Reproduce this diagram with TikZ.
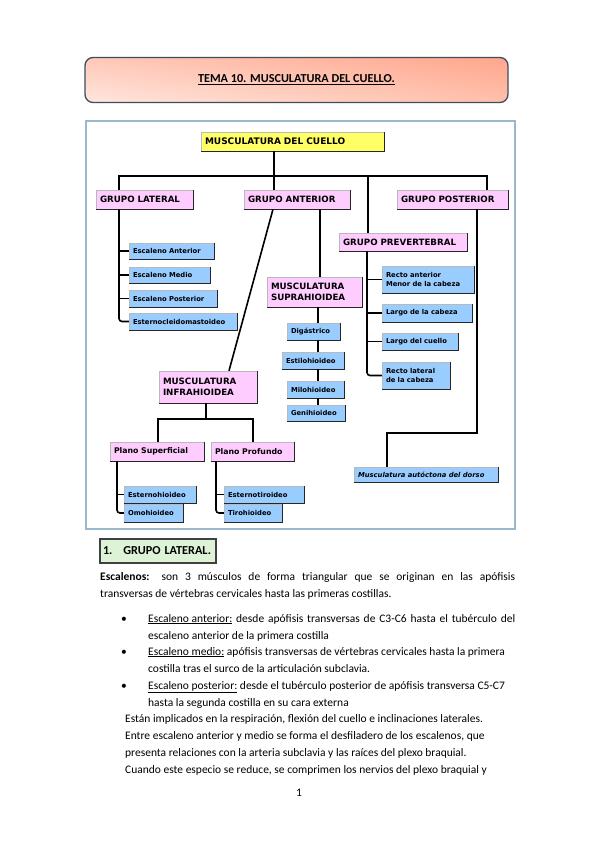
\documentclass[tikz,border=0pt]{standalone}
\usepackage{fontspec}
\setmainfont{Carlito}
\newfontfamily\comic{DejaVu Sans}
\usetikzlibrary{calc,shadings}
\definecolor{boxblue}{HTML}{99CCFF}
\definecolor{boxpink}{HTML}{FFCCFF}
\definecolor{boxyellow}{HTML}{FFFF66}
\definecolor{frameblue}{HTML}{9BB7CB}
\definecolor{titleborder}{HTML}{3E4E5E}
\definecolor{salmonUR}{HTML}{FFA68C}
\definecolor{salmonUL}{HTML}{FFC8B8}
\definecolor{salmonLL}{HTML}{FFE6DE}
\definecolor{salmonLR}{HTML}{FFC0AC}
\definecolor{greenbox}{HTML}{DDF3D6}
\tikzset{
  bxbase/.style={draw=gray!55, line width=0.5pt, inner xsep=4pt, inner ysep=1pt, align=left},
  bluebox/.style={bxbase, fill=boxblue, font=\comic\bfseries\fontsize{6.8}{9}\selectfont},
  bluebit/.style={bxbase, fill=boxblue, font=\comic\bfseries\itshape\fontsize{6.8}{9}\selectfont},
  pinkbox/.style={bxbase, fill=boxpink, font=\comic\bfseries\fontsize{8.7}{11}\selectfont},
  planobox/.style={bxbase, fill=boxpink, font=\comic\bfseries\fontsize{7.8}{10}\selectfont},
  yellowbox/.style={bxbase, fill=boxyellow, font=\comic\bfseries\fontsize{9}{11}\selectfont},
  edgedark/.style={draw=black!85, line width=0.9pt},
  conn/.style={draw=black, line width=1.6pt},
  txt/.style={anchor=base west, inner sep=0pt, font=\fontsize{11.5}{13}\selectfont},
}
\newcommand\mybox[7]{%
  \pgfmathsetmacro\bxw{#4-#2}\pgfmathsetmacro\bxh{#5-#3}\pgfmathsetmacro\bxt{#4-#2-8}%
  \pgfmathsetmacro\bxx{(#2+#4)/2}\pgfmathsetmacro\bxy{(#3+#5)/2}%
  \node[#6, minimum width=\bxw pt, minimum height=\bxh pt, text width=\bxt pt] (#1) at (\bxx,\bxy) {#7};
  \draw[edgedark] (#1.north east) -- (#1.south east) -- (#1.south west);}
\begin{document}
\begin{tikzpicture}[x=1pt,y=-1pt]
\fill[white] (0,0) rectangle (599,848);
\useasboundingbox (0,0) rectangle (599,848);
% title
\node[draw=titleborder, line width=1.3pt, rounded corners=8pt, minimum width=423pt, minimum height=45pt,
  upper left=salmonUL, upper right=salmonUR, lower left=salmonLL, lower right=salmonLR,
  font=\bfseries\fontsize{12.2}{14}\selectfont] (title) at (296.5,80) {\underline{TEMA 10. MUSCULATURA DEL CUELLO.}};
% frame
\draw[frameblue, line width=1.5pt] (86,121) rectangle (515,529);
% boxes
\mybox{cuello}{201}{132}{384}{151}{yellowbox}{MUSCULATURA DEL CUELLO}
\mybox{lat}{96}{190}{193}{209}{pinkbox}{GRUPO LATERAL}
\mybox{ant}{244}{190}{350}{209}{pinkbox}{GRUPO ANTERIOR}
\mybox{post}{397}{190}{508}{209}{pinkbox}{GRUPO POSTERIOR}
\mybox{prev}{339}{233}{467}{251}{pinkbox}{GRUPO PREVERTEBRAL}
\mybox{esA}{129}{243}{214}{259}{bluebox}{Escaleno Anterior}
\mybox{esM}{129}{267}{210}{283}{bluebox}{Escaleno Medio}
\mybox{esP}{129}{290}{217}{307}{bluebox}{Escaleno Posterior}
\mybox{ecm}{129}{313}{237}{330}{bluebox}{Esternocleidomastoideo}
\mybox{supra}{267}{277}{362}{307}{pinkbox}{MUSCULATURA\\SUPRAHIOIDEA}
\mybox{dig}{287}{323}{340}{340}{bluebox}{Digástrico}
\mybox{esti}{282}{352}{344}{369}{bluebox}{Estilohioideo}
\mybox{milo}{287}{381}{344}{398}{bluebox}{Milohioideo}
\mybox{geni}{287}{405}{345}{421}{bluebox}{Genihioideo}
\mybox{rma}{382}{266}{474}{293}{bluebox}{Recto anterior\\Menor de la cabeza}
\mybox{lca}{382}{304}{472}{322}{bluebox}{Largo de la cabeza}
\mybox{lcu}{382}{333}{458}{350}{bluebox}{Largo del cuello}
\mybox{rla}{382}{362}{450}{389}{bluebox}{Recto lateral\\de la cabeza}
\mybox{auto}{354}{467}{498}{482}{bluebit}{Musculatura autóctona del dorso}
\mybox{infra}{159}{371}{257}{403}{pinkbox}{MUSCULATURA\\INFRAHIOIDEA}
\mybox{ps}{110}{442}{204}{461}{planobox}{Plano Superficial}
\mybox{pp}{211}{442}{294}{461}{planobox}{Plano Profundo}
\mybox{esh}{124}{486}{196}{503}{bluebox}{Esternohioideo}
\mybox{omo}{124}{504}{183}{522}{bluebox}{Omohioideo}
\mybox{est}{224}{486}{304}{503}{bluebox}{Esternotiroideo}
\mybox{tiro}{224}{504}{282}{522}{bluebox}{Tirohioideo}
% connectors
\coordinate (j0) at (274,176);
\coordinate (jL) at (119,176);
\coordinate (jR) at (487,176);
\coordinate (jP) at (368,176);
\draw[conn] (cuello.south -| j0) -- (j0);
\draw[conn] (lat.north -| jL) -- (jL) -- (jR) -- (post.north -| jR);
\draw[conn] (j0) -- (ant.north -| j0);
\draw[conn] (jP) -- (prev.north -| jP);
\draw[conn, rounded corners=3pt] (lat.south -| jL) |- (ecm.west);
\foreach \n in {esA,esM,esP} \draw[conn] (\n.west -| jL) -- (\n.west);
\coordinate (a1) at (273,0);
\coordinate (a2) at (229,0);
\coordinate (a3) at (320,0);
\coordinate (a4) at (318,0);
\draw[conn] (ant.south -| a1) -- (infra.north -| a2);
\draw[conn] (ant.south -| a3) -- (supra.north -| a3);
\draw[conn] (supra.south -| a4) -- (dig.north -| a4);
\draw[conn] (dig.south -| a4) -- (esti.north -| a4);
\draw[conn] (esti.south -| a4) -- (milo.north -| a4);
\draw[conn] (milo.south -| a4) -- (geni.north -| a4);
\coordinate (p1) at (367,0);
\draw[conn, rounded corners=3pt] (prev.south -| p1) |- (rla.west);
\foreach \n in {rma,lca,lcu} \draw[conn] (\n.west -| p1) -- (\n.west);
\coordinate (q1) at (477,433);
\coordinate (q2) at (387,433);
\draw[conn] (post.south -| q1) -- (q1) -- (q2) -- (auto.north -| q2);
\coordinate (i0) at (206,419);
\coordinate (iL) at (158,419);
\coordinate (iR) at (253,419);
\draw[conn] (infra.south -| i0) -- (i0);
\draw[conn] (ps.north -| iL) -- (iL) -- (iR) -- (pp.north -| iR);
\coordinate (s1) at (117,0);
\coordinate (s2) at (216,0);
\draw[conn, rounded corners=3pt] (ps.south -| s1) |- (omo.west);
\draw[conn] (esh.west -| s1) -- (esh.west);
\draw[conn, rounded corners=3pt] (pp.south -| s2) |- (tiro.west);
\draw[conn] (est.west -| s2) -- (est.west);
% section heading
\node[draw=black!75, line width=1.2pt, fill=greenbox, minimum width=116pt, minimum height=24pt,
  text width=110pt, inner xsep=3pt, align=left, font=\bfseries\fontsize{12.2}{14}\selectfont] (sec) at (158,551) {1.\hspace{11pt}GRUPO LATERAL.};
% body text
\node[txt] (l1) at (100,580) {\makebox[415pt][s]{\textbf{Escalenos:} son 3 músculos de forma triangular que se originan en las apófisis}};
\node[txt] (l2) at (100,597) {transversas de vértebras cervicales hasta las primeras costillas.};
\node[txt] (b1) at (121,622) {\textbullet};
\node[txt] (l3) at (148,622) {\makebox[367pt][s]{\underline{Escaleno anterior:} desde apófisis transversas de C3-C6 hasta el tubérculo del}};
\node[txt] (l4) at (148,639) {escaleno anterior de la primera costilla};
\node[txt] (b2) at (121,655) {\textbullet};
\node[txt] (l5) at (148,655) {\underline{Escaleno medio:} apófisis transversas de vértebras cervicales hasta la primera};
\node[txt] (l6) at (148,672) {costilla tras el surco de la articulación subclavia.};
\node[txt] (b3) at (121,689) {\textbullet};
\node[txt] (l7) at (148,689) {\underline{Escaleno posterior:} desde el tubérculo posterior de apófisis transversa C5-C7};
\node[txt] (l8) at (148,706) {hasta la segunda costilla en su cara externa};
\node[txt] (l9) at (125,722) {Están implicados en la respiración, flexión del cuello e inclinaciones laterales.};
\node[txt] (l10) at (125,739) {Entre escaleno anterior y medio se forma el desfiladero de los escalenos, que};
\node[txt] (l11) at (125,756) {presenta relaciones con la arteria subclavia y las raíces del plexo braquial.};
\node[txt] (l12) at (125,773) {Cuando este especio se reduce, se comprimen los nervios del plexo braquial y};
\node[font=\fontsize{11.5}{13}\selectfont, inner sep=0pt] (pg) at (299,793) {1};
\end{tikzpicture}
\end{document}
